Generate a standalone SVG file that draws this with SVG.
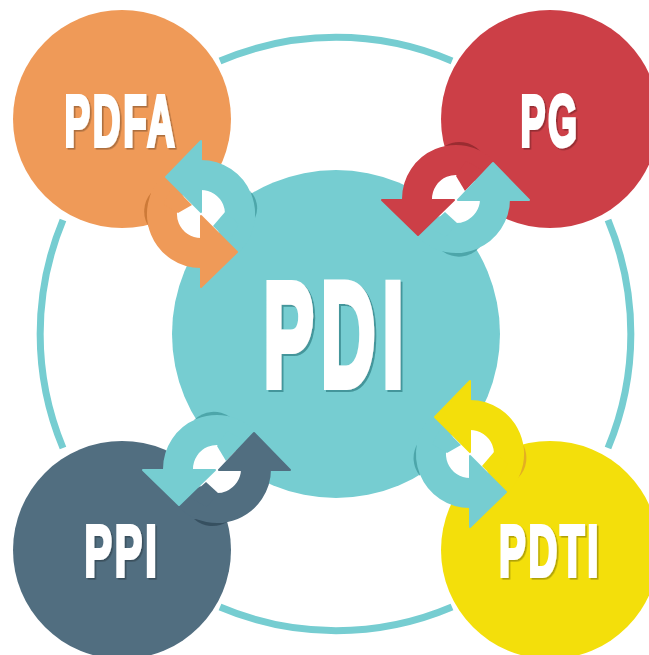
<svg xmlns="http://www.w3.org/2000/svg" width="649" height="655" viewBox="0 0 649 655">
<defs>
<filter id="shade" x="-30%" y="-30%" width="160%" height="160%"><feGaussianBlur stdDeviation="0.7"/></filter>
<filter id="ds" x="-10%" y="-10%" width="125%" height="125%"><feDropShadow dx="1.6" dy="1.6" stdDeviation="0.5" flood-color="#000" flood-opacity="0.28"/></filter>
<filter id="dsb" x="-10%" y="-10%" width="125%" height="125%"><feDropShadow dx="2" dy="2" stdDeviation="0.7" flood-color="#2f7f84" flood-opacity="0.7"/></filter>
</defs>
<style>
text{font-family:"Liberation Sans",Arial,sans-serif;font-weight:700;fill:#fff;stroke:#fff;text-anchor:middle;stroke-linejoin:miter}
.s{font-size:72px;stroke-width:4px;letter-spacing:5px;filter:url(#ds)}
.b{font-size:148px;stroke-width:8px;letter-spacing:14px;filter:url(#dsb)}
.ring{fill:none;stroke:#76CDD1;stroke-width:7}
.arc{fill:none;stroke-width:30}
.cre{filter:url(#shade);opacity:.75}
.head{stroke-width:2;stroke-linejoin:round}
.hole{fill:#fff}
.tealS{stroke:#76CDD1}.tealH{stroke:#76CDD1;fill:#76CDD1}.tealF{fill:#76CDD1}
</style>
<g id="connectors">
<path class="ring" d="M220 61A296 296 0 0 1 452 61"/>
<path class="ring" d="M608 220A296 296 0 0 1 608 448"/>
<path class="ring" d="M452 607A296 296 0 0 1 220 607"/>
<path class="ring" d="M63 448A296 296 0 0 1 63 220"/>
</g>
<g id="node-pdfa"><circle cx="122" cy="119" r="109" fill="#EF9A58"/><text class="s" x="121" y="146" textLength="113" lengthAdjust="spacingAndGlyphs">PDFA</text></g>
<g id="node-pg"><circle cx="550" cy="119" r="109" fill="#CC3F47"/><text class="s" x="550" y="146" textLength="59" lengthAdjust="spacingAndGlyphs">PG</text></g>
<g id="node-ppi"><circle cx="122" cy="550" r="109" fill="#516E80"/><text class="s" x="122" y="576" textLength="75" lengthAdjust="spacingAndGlyphs">PPI</text></g>
<g id="node-pdti"><circle cx="550" cy="550" r="109" fill="#F3DF0B"/><text class="s" x="550" y="576" textLength="102" lengthAdjust="spacingAndGlyphs">PDTI</text></g>
<g id="node-pdi"><circle cx="336" cy="334" r="164" fill="#76CDD1"/><text x="337" y="386" class="b" textLength="147" lengthAdjust="spacingAndGlyphs">PDI</text></g>

<g id="cycle-pdfa" transform="translate(201 214)">
<circle class="hole" r="26"/>
<path class="cre" fill="#C2702F" d="M-50 -21A28 28 0 0 0 -52 13Z"/>
<path class="cre" fill="#3F9A9E" d="M49 -23A24 24 0 0 1 54 4Z"/>
<path class="arc" stroke="#EF9A58" d="M0 39A39 39 0 0 1 -27.6 -27.6"/>
<path fill="#EF9A58" d="M-23 -1L-9 -9L-28 -28L-38 -10Z"/>
<path class="arc tealS" d="M0 -39A39 39 0 0 1 27.6 27.6"/>
<path class="tealF" d="M24 -2L12 12L28 28L38 10Z"/>
<path class="head" fill="#EF9A58" stroke="#EF9A58" d="M36 38L0 2V73Z"/>
<path class="head tealH" d="M-35 -37L0 -73V-2Z"/>
</g>
<g id="cycle-pg" transform="translate(456 199)">
<circle class="hole" r="26"/>
<path class="cre" fill="#8A252B" d="M-11 -53A28 28 0 0 1 24 -48Z"/>
<path class="cre" fill="#3F9A9E" d="M-14 52A28 28 0 0 0 24 48Z"/>
<path class="arc" stroke="#CC3F47" d="M-39 0A39 39 0 0 1 27.6 -27.6"/>
<path fill="#CC3F47" d="M0 -23L9 -8L28 -28L10 -38Z"/>
<path class="arc tealS" d="M39 0A39 39 0 0 1 -27.6 27.6"/>
<path class="tealF" d="M1 24L-11 13L-28 28L-10 38Z"/>
<path class="head" fill="#CC3F47" stroke="#CC3F47" d="M-38 36L-74 1H-2Z"/>
<path class="head tealH" d="M37 -36L2 1H73Z"/>
</g>
<g id="cycle-ppi" transform="translate(217 469)">
<circle class="hole" r="26"/>
<path class="cre" fill="#3F9A9E" d="M-23 -49A28 28 0 0 1 13 -52Z"/>
<path class="cre" fill="#2F4656" d="M-23 50A28 28 0 0 0 10 53Z"/>
<path class="arc tealS" d="M-39 0A39 39 0 0 1 27.6 -27.6"/>
<path class="tealF" d="M0 -23L9 -8L28 -28L10 -38Z"/>
<path class="arc" stroke="#516E80" d="M39 0A39 39 0 0 1 -27.6 27.6"/>
<path fill="#516E80" d="M1 24L-11 13L-28 28L-10 38Z"/>
<path class="head tealH" d="M-38 36L-74 1H-2Z"/>
<path class="head" fill="#516E80" stroke="#516E80" d="M37 -36L2 1H73Z"/>
</g>
<g id="cycle-pdti" transform="translate(470 454)">
<circle class="hole" r="26"/>
<path class="cre" fill="#3F9A9E" d="M-52 -11A28 28 0 0 0 -50 22Z"/>
<path class="cre" fill="#DE9F2A" d="M52 -11A28 28 0 0 1 48 24Z"/>
<path class="arc tealS" d="M0 39A39 39 0 0 1 -27.6 -27.6"/>
<path class="tealF" d="M-23 -1L-9 -9L-28 -28L-38 -10Z"/>
<path class="arc" stroke="#F3DF0B" d="M0 -39A39 39 0 0 1 27.6 27.6"/>
<path fill="#F3DF0B" d="M24 -2L12 12L28 28L38 10Z"/>
<path class="head tealH" d="M36 38L0 2V73Z"/>
<path class="head" fill="#F3DF0B" stroke="#F3DF0B" d="M-35 -37L0 -73V-2Z"/>
</g>
</svg>
